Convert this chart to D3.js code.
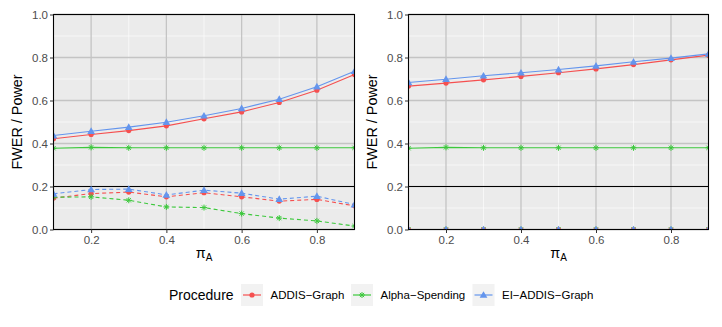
<!DOCTYPE html>
<html>
<head>
<meta charset="utf-8">
<script src="https://cdn.jsdelivr.net/npm/d3@7"></script>
<style>
  body { margin: 0; background: #fff; }
  text { font-family: "Liberation Sans", Arial, sans-serif; }
</style>
</head>
<body>
<div id="chart"></div>
<script>
// data
const piA = [0.1, 0.2, 0.3, 0.4, 0.5, 0.6, 0.7, 0.8, 0.9];
const procedures = ["ADDIS\u2212Graph", "Alpha\u2212Spending", "EI\u2212ADDIS\u2212Graph"];
const colors = ["#F55050", "#3CC83C", "#6495ED"];
const shapes = ["circle", "asterisk", "triangle"];

// left panel
const leftPowerAddis = [0.422, 0.442, 0.460, 0.482, 0.515, 0.547, 0.591, 0.648, 0.721];
const leftPowerAlpha = [0.378, 0.382, 0.380, 0.380, 0.380, 0.380, 0.380, 0.380, 0.380];
const leftPowerEi    = [0.437, 0.457, 0.476, 0.499, 0.529, 0.563, 0.606, 0.664, 0.736];
const leftFwerAddis  = [0.146, 0.167, 0.174, 0.152, 0.171, 0.152, 0.132, 0.140, 0.110];
const leftFwerAlpha  = [0.150, 0.152, 0.136, 0.105, 0.102, 0.074, 0.053, 0.040, 0.016];
const leftFwerEi     = [0.166, 0.186, 0.188, 0.161, 0.183, 0.169, 0.141, 0.155, 0.116];

// right panel
const rightPowerAddis = [0.667, 0.681, 0.696, 0.712, 0.729, 0.747, 0.767, 0.789, 0.811];
const rightPowerAlpha = [0.378, 0.382, 0.380, 0.380, 0.380, 0.380, 0.380, 0.380, 0.380];
const rightPowerEi    = [0.684, 0.699, 0.715, 0.729, 0.744, 0.761, 0.780, 0.797, 0.817];
const rightFwerAddis  = [0, 0, 0, 0, 0, 0, 0, 0, 0];
const rightFwerAlpha  = [0, 0, 0, 0, 0, 0, 0, 0, 0];
const rightFwerEi     = [0, 0, 0, 0, 0, 0, 0, 0, 0];

const xTicks = [0.2, 0.4, 0.6, 0.8];
const xMinor = [0.3, 0.5, 0.7];
const yTicks = [0, 0.2, 0.4, 0.6, 0.8, 1.0];
const yMinor = [0.1, 0.3, 0.5, 0.7, 0.9];
const refLine = 0.2;

const panels = [
  { left: 53.5, right: 354.5, power: [leftPowerAddis, leftPowerAlpha, leftPowerEi],
    fwer: [leftFwerAddis, leftFwerAlpha, leftFwerEi], titleX: 17 },
  { left: 408.5, right: 708.5, power: [rightPowerAddis, rightPowerAlpha, rightPowerEi],
    fwer: [rightFwerAddis, rightFwerAlpha, rightFwerEi], titleX: 372 }
];

const width = 722, height = 327;
const plotTop = 14.5, plotBottom = 229.5;

const svg = d3.select("#chart").append("svg")
  .attr("width", width).attr("height", height);

function drawMarker(g, shape, x, y, color) {
  if (shape === "circle") {
    g.append("circle").attr("cx", x).attr("cy", y).attr("r", 2.6).attr("fill", color);
  } else if (shape === "triangle") {
    const s = d3.symbol().type(d3.symbolTriangle).size(26);
    g.append("path").attr("d", s()).attr("transform", `translate(${x},${y + 0.6})`).attr("fill", color);
  } else {
    const r = 3;
    const star = g.append("g").attr("transform", `translate(${x},${y})`)
      .attr("stroke", color).attr("stroke-width", 1);
    [0, 45, 90, 135].forEach(a => {
      const rad = a * Math.PI / 180;
      star.append("line")
        .attr("x1", -r * Math.cos(rad)).attr("y1", -r * Math.sin(rad))
        .attr("x2", r * Math.cos(rad)).attr("y2", r * Math.sin(rad));
    });
  }
}

panels.forEach((p, pi) => {
  const x = d3.scaleLinear().domain([0.1, 0.9]).range([p.left, p.right]);
  const y = d3.scaleLinear().domain([0, 1]).range([plotBottom, plotTop]);
  const g = svg.append("g");

  // background
  g.append("rect").attr("x", p.left).attr("y", plotTop)
    .attr("width", p.right - p.left).attr("height", plotBottom - plotTop).attr("fill", "#EBEBEB");

  // minor grid
  g.selectAll(".ymin").data(yMinor).join("line")
    .attr("x1", p.left).attr("x2", p.right)
    .attr("y1", d => y(d)).attr("y2", d => y(d))
    .attr("stroke", "#fff").attr("stroke-width", 0.6);
  g.selectAll(".xmin").data(xMinor).join("line")
    .attr("y1", plotTop).attr("y2", plotBottom)
    .attr("x1", d => x(d)).attr("x2", d => x(d))
    .attr("stroke", "#fff").attr("stroke-width", 0.6);

  // major grid (grey)
  g.selectAll(".ymaj").data(yTicks).join("line")
    .attr("x1", p.left).attr("x2", p.right)
    .attr("y1", d => y(d)).attr("y2", d => y(d))
    .attr("stroke", "#C4C4C4").attr("stroke-width", 1.3);
  g.selectAll(".xmaj").data(xTicks).join("line")
    .attr("y1", plotTop).attr("y2", plotBottom)
    .attr("x1", d => x(d)).attr("x2", d => x(d))
    .attr("stroke", "#C4C4C4").attr("stroke-width", 1.3);

  // reference line
  g.append("line").attr("x1", p.left).attr("x2", p.right)
    .attr("y1", y(refLine)).attr("y2", y(refLine))
    .attr("stroke", "#000").attr("stroke-width", 1);

  // clip
  const clipId = "clip" + pi;
  svg.append("clipPath").attr("id", clipId).append("rect")
    .attr("x", p.left).attr("y", plotTop).attr("width", p.right - p.left).attr("height", plotBottom - plotTop);
  const dataG = g.append("g").attr("clip-path", `url(#${clipId})`);

  const line = d3.line().x((d, i) => x(piA[i])).y(d => y(d));

  [p.power, p.fwer].forEach((set, si) => {
    set.forEach((vals, k) => {
      dataG.append("path").datum(vals)
        .attr("fill", "none").attr("stroke", colors[k]).attr("stroke-width", 1.1)
        .attr("stroke-dasharray", si === 1 ? "4,3" : null)
        .attr("d", line);
    });
  });
  [p.power, p.fwer].forEach(set => {
    set.forEach((vals, k) => {
      vals.forEach((v, i) => drawMarker(dataG, shapes[k], x(piA[i]), y(v), colors[k]));
    });
  });

  // border
  g.append("rect").attr("x", p.left).attr("y", plotTop)
    .attr("width", p.right - p.left).attr("height", plotBottom - plotTop)
    .attr("fill", "none").attr("stroke", "#000").attr("stroke-width", 1.1);

  // axes
  const yAxis = g.append("g").attr("transform", `translate(${p.left},0)`)
    .call(d3.axisLeft(y).tickValues(yTicks).tickFormat(d3.format(".1f")).tickSize(3.5).tickPadding(2));
  const xAxis = g.append("g").attr("transform", `translate(0,${plotBottom})`)
    .call(d3.axisBottom(x).tickValues(xTicks).tickFormat(d3.format(".1f")).tickSize(3.5).tickPadding(3));
  [yAxis, xAxis].forEach(a => {
    a.select(".domain").remove();
    a.selectAll(".tick line").attr("stroke", "#333").attr("stroke-width", 1);
    a.selectAll(".tick text").attr("fill", "#4D4D4D").style("font-size", "11.5px")
      .style("font-family", "Liberation Sans, Arial, sans-serif");
  });

  // axis titles
  g.append("text").attr("transform", `translate(${p.titleX},${(plotTop + plotBottom) / 2}) rotate(-90)`)
    .attr("text-anchor", "middle").attr("dy", "0.35em")
    .style("font-size", "14.4px").attr("fill", "#000").text("FWER / Power");
  const xt = g.append("text").attr("x", (p.left + p.right) / 2).attr("y", 258)
    .attr("text-anchor", "middle").style("font-size", "14.4px").attr("fill", "#000");
  xt.append("tspan").text("\u03C0");
  xt.append("tspan").attr("dy", 3).style("font-size", "10px").text("A");
});

// legend
const legend = svg.append("g");
legend.append("text").attr("x", 169).attr("y", 300).style("font-size", "14px").attr("fill", "#000").text("Procedure");
const keyX = [241, 351, 472.5];
procedures.forEach((name, k) => {
  const kg = legend.append("g").attr("transform", `translate(${keyX[k]},284)`);
  kg.append("rect").attr("width", 22).attr("height", 22).attr("fill", "#F2F2F2");
  kg.append("line").attr("x1", 2).attr("x2", 20).attr("y1", 11).attr("y2", 11)
    .attr("stroke", colors[k]).attr("stroke-width", 1.2);
  drawMarker(kg, shapes[k], 11, 11, colors[k]);
  legend.append("text").attr("x", keyX[k] + 29.5).attr("y", 299)
    .style("font-size", "11.5px").attr("fill", "#000").text(name);
});
</script>
</body>
</html>
